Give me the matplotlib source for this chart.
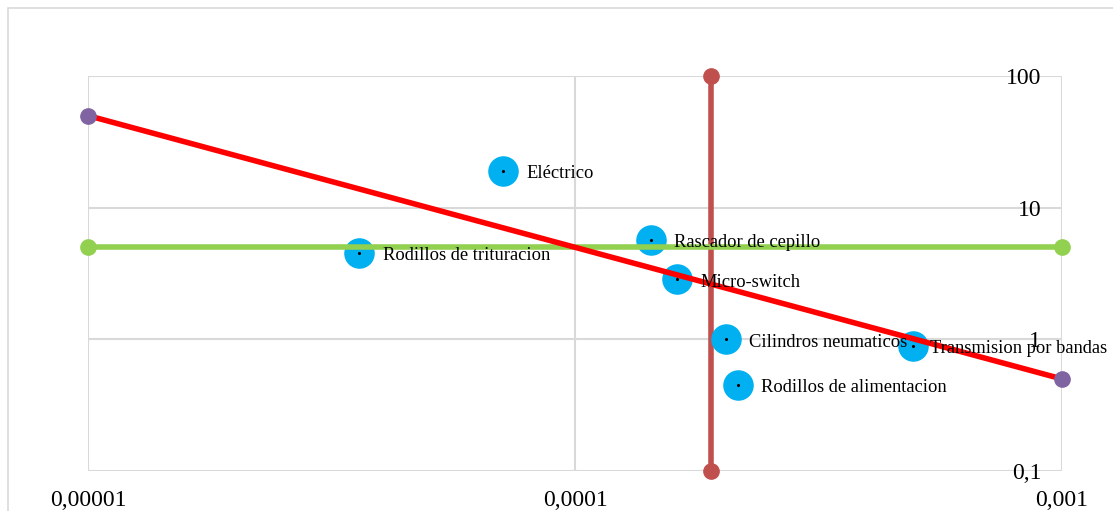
import matplotlib.pyplot as plt
from matplotlib.patches import Rectangle

plt.rcParams['font.family'] = ['Liberation Serif', 'DejaVu Serif']

# components: failure rate vs. consequence
names = ['Eléctrico', 'Rodillos de trituracion', 'Rascador de cepillo', 'Micro-switch',
         'Cilindros neumaticos', 'Rodillos de alimentacion', 'Transmision por bandas']
rate = [7.1e-5, 3.6e-5, 1.43e-4, 1.62e-4, 2.04e-4, 2.16e-4, 4.95e-4]
impact = [19.0, 4.55, 5.7, 2.85, 1.0, 0.45, 0.89]

# reference lines
diag_x = [1e-5, 1e-3]
diag_y = [50, 0.5]
horiz_x = [1e-5, 1e-3]
horiz_y = [5, 5]
vert_x = [1.9e-4, 1.9e-4]
vert_y = [0.1, 100]

xticks = [1e-5, 1e-4, 1e-3]
xlabels = ['0,00001', '0,0001', '0,001']
yticks = [0.1, 1, 10, 100]
ylabels = ['0,1', '1', '10', '100']

fig = plt.figure(figsize=(11.13, 5.11), dpi=100)
ax = fig.add_axes([88 / 1113, 1 - 471 / 511, (1062 - 88) / 1113, (471 - 76) / 511])
# chart frame, cut off on the right and bottom
fig.patches.append(Rectangle((8 / 1113, -0.05), 1.0, 1 - 8 / 511 + 0.05,
                             transform=fig.transFigure, fill=False,
                             edgecolor='#d9d9d9', lw=1.2))

ax.set_xscale('log')
ax.set_yscale('log')
ax.set_xlim(1e-5, 1e-3)
ax.set_ylim(0.1, 100)

ax.plot(vert_x, vert_y, color='#c0504d', lw=4, marker='o', ms=11, zorder=3, clip_on=False)
ax.scatter(rate, impact, s=440, color='#00b0f0', zorder=4, clip_on=False)
ax.scatter(rate, impact, s=1.5, color='black', zorder=4.5)
ax.plot(horiz_x, horiz_y, color='#92d050', lw=4, zorder=5, clip_on=False)
ax.plot(horiz_x, horiz_y, 'o', color='#92d050', ms=11, zorder=5, clip_on=False)
ax.plot(diag_x, diag_y, color='#ff0000', lw=4, zorder=6, clip_on=False)
ax.plot(diag_x, diag_y, 'o', color='#8064a2', ms=11, zorder=6.5, clip_on=False)

for n, x, y in zip(names, rate, impact):
    # last label sits closer to its dot so it fits inside the frame
    dx = 12 if x > 4e-4 else 17
    ax.annotate(n, (x, y), xytext=(dx, -2), textcoords='offset points',
                va='center', ha='left', fontsize=13.3, zorder=7)

ax.set_xticks(xticks)
ax.set_xticklabels(xlabels, fontsize=17)
ax.yaxis.tick_right()
ax.set_yticks(yticks)
ax.set_yticklabels(ylabels, fontsize=17)
ax.minorticks_off()
ax.tick_params(axis='x', length=0, pad=14)
ax.tick_params(axis='y', length=0, pad=-15)
for lab in ax.get_yticklabels():
    lab.set_horizontalalignment('right')
    lab.set_zorder(8)

ax.grid(True, color='#d9d9d9', lw=1.5)
ax.set_axisbelow(True)
for s in ax.spines.values():
    s.set_visible(False)

fig.savefig('out.png', dpi=100)
